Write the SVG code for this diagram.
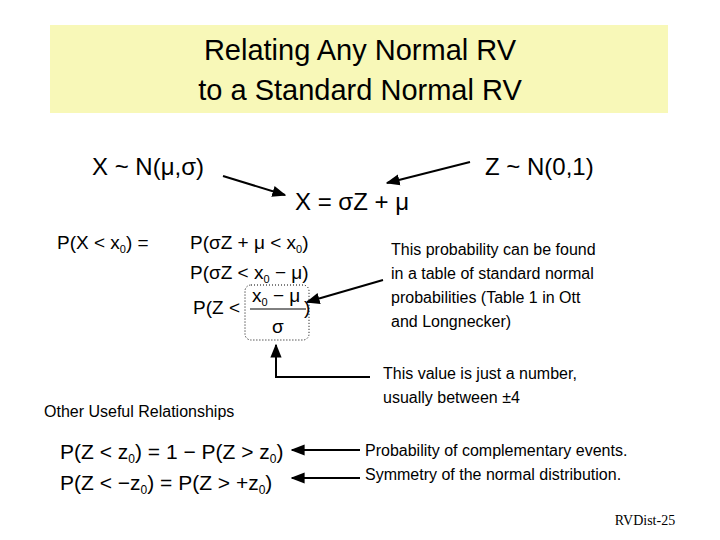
<svg xmlns="http://www.w3.org/2000/svg" width="720" height="540" viewBox="0 0 720 540">
<defs>
<marker id="ah" viewBox="0 0 10 10" refX="9" refY="5" markerWidth="7" markerHeight="7" orient="auto"><path d="M0,1 L10,5 L0,9 z" fill="#000"/></marker>
<style>
text{font-family:"Liberation Sans",Arial,sans-serif;fill:#000}
.m{font-size:19px}
.b{font-size:24px}
.n{font-size:16px}
.c{stroke:#000;stroke-width:2;fill:none;marker-end:url(#ah)}
</style>
</defs>
<rect width="720" height="540" fill="#fff"/>
<g id="title">
<rect x="50" y="25" width="618" height="88" fill="#f8f8b8"/>
<text x="360" y="60" text-anchor="middle" font-size="29">Relating Any Normal RV</text>
<text x="360" y="100" text-anchor="middle" font-size="29">to a Standard Normal RV</text>
</g>
<g id="eqs">
<text class="b" x="92" y="175">X ~ N(μ,σ)</text>
<text class="b" x="485" y="175">Z ~ N(0,1)</text>
<text class="b" x="295" y="210">X = σZ + μ</text>
<text class="m" x="57" y="249">P(X &lt; x<tspan font-size="11" dy="4">0</tspan><tspan dy="-4">)   =</tspan></text>
<text class="m" x="190" y="249">P(σZ + μ &lt; x<tspan font-size="11" dy="4">0</tspan><tspan dy="-4">)</tspan></text>
<text class="m" x="190" y="279">P(σZ &lt; x<tspan font-size="11" dy="4">0</tspan><tspan dy="-4"> − μ)</tspan></text>
<text class="m" x="193" y="314">P(Z &lt;</text>
<text class="m" x="252" y="302">x<tspan font-size="11" dy="4">0</tspan><tspan dy="-4"> − μ</tspan></text>
<line x1="250" y1="309" x2="306" y2="309" stroke="#000" stroke-width="1"/>
<text class="m" x="272" y="333">σ</text>
<text class="m" x="304" y="314">)</text>
<rect x="245" y="285" width="64" height="55" rx="6" fill="none" stroke="#000" stroke-width="1" stroke-dasharray="1,2"/>
<text x="60" y="459" font-size="21">P(Z &lt; z<tspan font-size="12" dy="4">0</tspan><tspan dy="-4">) = 1 − P(Z &gt; z</tspan><tspan font-size="12" dy="4">0</tspan><tspan dy="-4">)</tspan></text>
<text x="60" y="490" font-size="21">P(Z &lt; −z<tspan font-size="12" dy="4">0</tspan><tspan dy="-4">) = P(Z &gt; +z</tspan><tspan font-size="12" dy="4">0</tspan><tspan dy="-4">)</tspan></text>
</g>
<g id="notes">
<text class="n" x="391" y="255">This probability can be found</text>
<text class="n" x="391" y="279">in a table of standard normal</text>
<text class="n" x="391" y="303">probabilities (Table 1 in Ott</text>
<text class="n" x="391" y="327">and Longnecker)</text>
<text class="n" x="383" y="379">This value is just a number,</text>
<text class="n" x="383" y="403">usually between ±4</text>
<text class="n" x="44" y="417">Other Useful Relationships</text>
<text class="n" x="365" y="456">Probability of complementary events.</text>
<text class="n" x="365" y="480">Symmetry of the normal distribution.</text>
<text x="645" y="525" font-size="14" text-anchor="middle" style="font-family:'Liberation Serif',serif">RVDist-25</text>
</g>
<g id="connectors">
<line class="c" x1="223" y1="176" x2="285" y2="195"/>
<line class="c" x1="470" y1="162" x2="387" y2="183"/>
<line class="c" x1="383" y1="280" x2="307" y2="302"/>
<path class="c" d="M370,377 H276 V345"/>
<line class="c" x1="360" y1="450" x2="292" y2="450"/>
<line class="c" x1="360" y1="478" x2="292" y2="478"/>
</g>
</svg>
